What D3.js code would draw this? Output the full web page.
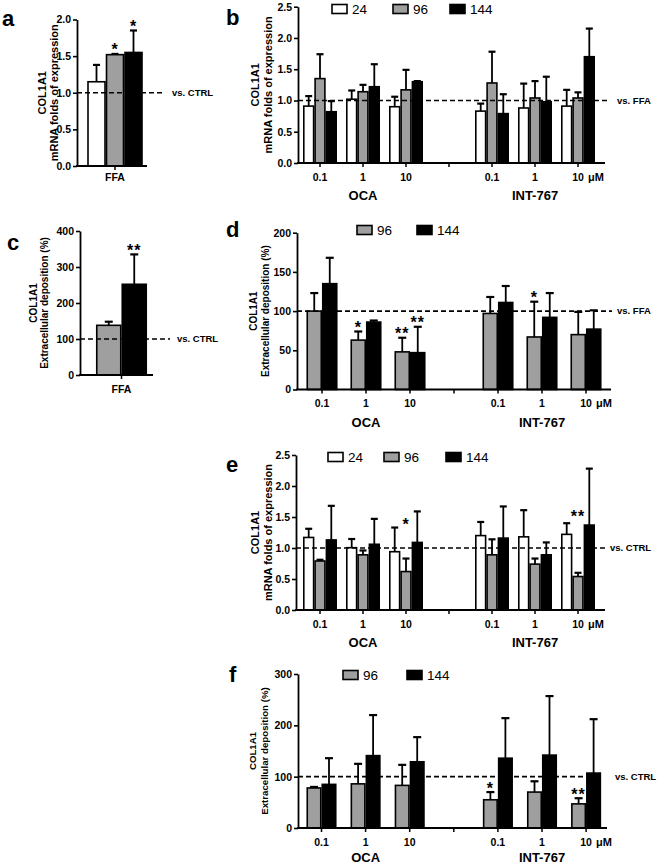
<!DOCTYPE html>
<html>
<head>
<meta charset="utf-8">
<script src="https://cdn.jsdelivr.net/npm/d3@7"></script>
<style>
  html, body { margin: 0; padding: 0; background: #fff; }
  svg { display: block; }
  text { font-family: 'Liberation Sans', Arial, sans-serif; }
</style>
</head>
<body>
<svg id="fig" width="658" height="866"></svg>
<script>
// ---------------- DATA ----------------
const concLabels = ["0.1", "1", "10", "0.1", "1", "10"];
const drugLabels = ["OCA", "INT-767"];
const seriesRNA = ["24", "96", "144"];
const seriesDep = ["96", "144"];

// panel a: COL1A1 mRNA, FFA vs CTRL
const aMean = [1.15, 1.52, 1.55];
const aErr  = [1.38, 1.53, 1.85];
const aStar = ["", "*", "*"];
const aTicks = [0, 0.5, 1.0, 1.5, 2.0];

// panel b: mRNA vs FFA
const b24     = [0.91, 1.02, 0.90, 0.83, 0.88, 0.91];
const b24Err  = [1.07, 1.16, 1.06, 0.95, 1.27, 1.17];
const b96     = [1.35, 1.14, 1.17, 1.28, 1.04, 1.04];
const b96Err  = [1.74, 1.25, 1.49, 1.78, 1.31, 1.13];
const b144    = [0.82, 1.22, 1.30, 0.79, 0.98, 1.70];
const b144Err = [0.99, 1.58, 1.31, 1.10, 1.38, 2.15];
const rnaTicks = [0, 0.5, 1.0, 1.5, 2.0, 2.5];

// panel c: extracellular deposition, FFA vs CTRL
const cMean = [138, 252];
const cErr  = [148, 335];
const cStar = ["", "**"];
const cTicks = [0, 100, 200, 300, 400];

// panel d: deposition vs FFA
const d96      = [100, 63, 48, 97, 67, 70];
const d96Err   = [123, 74, 66, 118, 112, 99];
const d96Star  = ["", "*", "**", "", "*", ""];
const d144     = [135, 86, 47, 111, 92, 77];
const d144Err  = [168, 88, 80, 132, 123, 101];
const d144Star = ["", "", "**", "", "", ""];
const dTicks = [0, 50, 100, 150, 200];

// panel e: mRNA vs CTRL
const e24     = [1.17, 1.005, 0.94, 1.20, 1.18, 1.22];
const e24Err  = [1.31, 1.145, 1.33, 1.42, 1.61, 1.40];
const e96     = [0.79, 0.89, 0.62, 0.89, 0.74, 0.54];
const e96Err  = [0.81, 0.96, 0.83, 1.14, 0.83, 0.60];
const e96Star = ["", "", "*", "", "", "**"];
const e96StarAt = [null, null, 1.31, null, null, 1.45];
const e144    = [1.13, 1.06, 1.09, 1.16, 0.89, 1.37];
const e144Err = [1.68, 1.47, 1.59, 1.67, 1.09, 2.28];

// panel f: deposition vs CTRL
const f96      = [78, 86, 83, 55, 70, 47];
const f96Err   = [80, 125, 123, 70, 91, 58];
const f96Star  = ["", "", "", "*", "", "**"];
const f144     = [85, 141, 129, 136, 142, 107];
const f144Err  = [136, 220, 177, 214, 257, 212];
const fTicks = [0, 100, 200, 300];

// ---------------- STYLE ----------------
const FILL = { "24": "#ffffff", "96": "#9f9f9f", "144": "#000000" };
const svg = d3.select("#fig");

function drawPanel(cfg) {
  const g = svg.append("g");
  const y = d3.scaleLinear().domain([0, cfg.yMax]).range([cfg.yBot, cfg.yTop]);
  const slots = cfg.slots;
  const xs = d3.scaleBand().domain(slots)
    .range([cfg.c0 - cfg.step / 2, cfg.c0 - cfg.step / 2 + slots.length * cfg.step])
    .padding(0);
  const names = cfg.series.map(s => s.name);
  const xi = d3.scaleBand().domain(names)
    .range([-names.length * cfg.barW / 2, names.length * cfg.barW / 2]).padding(0);
  const center = k => xs(k) + xs.bandwidth() / 2;

  // bars
  cfg.series.forEach(s => {
    const rows = cfg.groupKeys.map((k, i) => ({ k, i, v: s.mean[i], e: s.err[i],
      star: s.star ? s.star[i] : "", starAt: s.starAt ? s.starAt[i] : null }));
    const bw = xi.bandwidth();
    g.selectAll(null).data(rows).enter().append("line")
      .attr("x1", d => center(d.k) + xi(s.name) + bw / 2)
      .attr("x2", d => center(d.k) + xi(s.name) + bw / 2)
      .attr("y1", d => y(d.v)).attr("y2", d => y(d.e))
      .attr("stroke", "#000").attr("stroke-width", 1.8);
    g.selectAll(null).data(rows).enter().append("line")
      .attr("x1", d => center(d.k) + xi(s.name) + bw / 2 - cfg.capW / 2)
      .attr("x2", d => center(d.k) + xi(s.name) + bw / 2 + cfg.capW / 2)
      .attr("y1", d => y(d.e)).attr("y2", d => y(d.e))
      .attr("stroke", "#000").attr("stroke-width", 2.2);
    g.selectAll(null).data(rows).enter().append("rect")
      .attr("x", d => center(d.k) + xi(s.name) + 0.75)
      .attr("width", bw - 1.5)
      .attr("y", d => y(d.v))
      .attr("height", d => y(0) - y(d.v))
      .attr("fill", FILL[s.name]).attr("stroke", "#000").attr("stroke-width", 1.6);
    g.selectAll(null).data(rows.filter(d => d.star)).enter().append("text")
      .attr("x", d => center(d.k) + xi(s.name) + bw / 2)
      .attr("y", d => y(d.starAt != null ? d.starAt : d.e) + 1.5)
      .attr("text-anchor", "middle").attr("font-size", 16).attr("font-weight", "bold")
      .attr("letter-spacing", 1)
      .text(d => d.star);
  });

  // reference dashed line
  g.append("line")
    .attr("x1", cfg.x0).attr("x2", cfg.refEnd)
    .attr("y1", y(cfg.refVal)).attr("y2", y(cfg.refVal))
    .attr("stroke", "#000").attr("stroke-width", 1.6).attr("stroke-dasharray", "5,3");
  g.append("text").attr("x", cfg.refLabelX).attr("y", y(cfg.refVal)).attr("dy", "0.35em")
    .attr("font-size", 9.5).attr("font-weight", "bold").text(cfg.refLabel);

  // y axis
  const yAxis = g.append("g").attr("transform", `translate(${cfg.x0},0)`)
    .call(d3.axisLeft(y).tickValues(cfg.ticks).tickSize(4).tickSizeOuter(0)
      .tickPadding(2).tickFormat(d3.format(cfg.fmt)));
  yAxis.select(".domain").attr("stroke-width", 1.8);
  yAxis.selectAll(".tick line").attr("stroke-width", 1.6);
  yAxis.selectAll("text").attr("font-size", 10.5).attr("font-weight", "bold")
    .attr("font-family", "'Liberation Sans', Arial, sans-serif");

  // x axis
  g.append("line").attr("x1", cfg.x0 - 0.9).attr("x2", cfg.x1)
    .attr("y1", y(0)).attr("y2", y(0)).attr("stroke", "#000").attr("stroke-width", 1.8);
  g.selectAll(null).data(slots).enter().append("line")
    .attr("x1", d => center(d)).attr("x2", d => center(d))
    .attr("y1", y(0)).attr("y2", y(0) + 4)
    .attr("stroke", "#000").attr("stroke-width", 1.5);
  g.selectAll(null).data(cfg.groupKeys).enter().append("text")
    .attr("x", d => center(d)).attr("y", y(0) + cfg.labelOff)
    .attr("text-anchor", "middle").attr("font-size", cfg.labelSize).attr("font-weight", "bold")
    .text((d, i) => cfg.groupLabels[i]);
  if (cfg.unit) {
    const last = cfg.groupKeys[cfg.groupKeys.length - 1];
    g.append("text").attr("x", center(last) + 10).attr("y", y(0) + cfg.labelOff)
      .attr("font-size", 11).attr("font-weight", "bold").text(cfg.unit);
  }
  if (cfg.drugKeys) {
    g.selectAll(null).data(cfg.drugKeys).enter().append("text")
      .attr("x", d => center(d)).attr("y", y(0) + cfg.drugOff)
      .attr("text-anchor", "middle").attr("font-size", 13).attr("font-weight", "bold")
      .text((d, i) => drugLabels[i]);
  }

  // y title
  const cy = (cfg.yTop + cfg.yBot) / 2;
  cfg.title.forEach((t, i) => {
    g.append("text").attr("transform", `translate(${cfg.titleX[i]},${cy}) rotate(-90)`)
      .attr("dy", "0.35em").attr("text-anchor", "middle")
      .attr("font-size", cfg.titleSize).attr("font-weight", "bold").text(t);
  });

  // legend
  if (cfg.legend) {
    cfg.series.forEach((s, i) => {
      const lx = cfg.legend.x[i];
      g.append("rect").attr("x", lx).attr("y", cfg.legend.y - 4.5).attr("width", 15).attr("height", 9)
        .attr("fill", FILL[s.name]).attr("stroke", "#000").attr("stroke-width", 1.6);
      g.append("text").attr("x", lx + 20).attr("y", cfg.legend.y).attr("dy", "0.36em")
        .attr("font-size", 13.5).text(s.name);
    });
  }

  // panel letter
  g.append("text").attr("x", cfg.letter.x).attr("y", cfg.letter.y)
    .attr("font-size", 22).attr("font-weight", "bold").text(cfg.letter.t);
}

const slots7 = ["g0", "g1", "g2", "gap", "g3", "g4", "g5"];
const keys6 = ["g0", "g1", "g2", "g3", "g4", "g5"];
const grouped = { slots: slots7, groupKeys: keys6, groupLabels: concLabels,
  drugKeys: ["g1", "g4"], unit: "\u03bcM", labelOff: 17.5, labelSize: 10.5, capW: 7, drugOff: 37 };

// a
drawPanel({ slots: ["g0"], groupKeys: ["g0"], groupLabels: ["FFA"], labelOff: 14.5, labelSize: 10.5,
  x0: 77, x1: 147, yTop: 19.5, yBot: 166, yMax: 2, ticks: aTicks, fmt: ".1f",
  c0: 115, step: 70, barW: 18.5, capW: 7,
  series: seriesRNA.map((n, i) => ({ name: n, mean: [aMean[i]], err: [aErr[i]], star: [aStar[i]] })),
  refVal: 1, refEnd: 165, refLabelX: 172, refLabel: "vs. CTRL",
  title: ["COL1A1", "mRNA folds of expression"], titleX: [42, 54], titleSize: 11,
  letter: { t: "a", x: 2, y: 26 } });

// b
drawPanel(Object.assign({}, grouped, {
  x0: 298, x1: 605, yTop: 6.7, yBot: 163, yMax: 2.5, ticks: rnaTicks, fmt: ".1f",
  c0: 320, step: 43, barW: 11.3,
  series: [{ name: "24", mean: b24, err: b24Err }, { name: "96", mean: b96, err: b96Err },
           { name: "144", mean: b144, err: b144Err }],
  refVal: 1, refEnd: 608, refLabelX: 617, refLabel: "vs. FFA",
  title: ["COL1A1", "mRNA folds of expression"], titleX: [255, 268], titleSize: 11,
  legend: { x: [332, 393, 450], y: 9 },
  letter: { t: "b", x: 226, y: 25 } }));

// c
drawPanel({ slots: ["g0"], groupKeys: ["g0"], groupLabels: ["FFA"], labelOff: 18, labelSize: 10.5,
  x0: 80, x1: 153, yTop: 231, yBot: 375, yMax: 400, ticks: cTicks, fmt: "d",
  c0: 121.5, step: 73, barW: 25.5, capW: 8,
  series: seriesDep.map((n, i) => ({ name: n, mean: [cMean[i]], err: [cErr[i]], star: [cStar[i]] })),
  refVal: 100, refEnd: 170, refLabelX: 177, refLabel: "vs. CTRL",
  title: ["COL1A1", "Extracellular deposition (%)"], titleX: [33, 44], titleSize: 10,
  letter: { t: "c", x: 7, y: 250 } });

// d
drawPanel(Object.assign({}, grouped, {
  x0: 297, x1: 611, yTop: 232.7, yBot: 389.5, yMax: 200, ticks: dTicks, fmt: "d",
  c0: 322, step: 44, barW: 15.5, capW: 8,
  series: [{ name: "96", mean: d96, err: d96Err, star: d96Star },
           { name: "144", mean: d144, err: d144Err, star: d144Star }],
  refVal: 100, refEnd: 612, refLabelX: 617, refLabel: "vs. FFA",
  title: ["COL1A1", "Extracellular deposition (%)"], titleX: [253, 265], titleSize: 10,
  legend: { x: [357, 417], y: 230 },
  letter: { t: "d", x: 226, y: 237 } }));

// e
drawPanel(Object.assign({}, grouped, {
  x0: 296, x1: 605, yTop: 455, yBot: 610, yMax: 2.5, ticks: rnaTicks, fmt: ".1f",
  c0: 320, step: 43, barW: 11.3,
  series: [{ name: "24", mean: e24, err: e24Err },
           { name: "96", mean: e96, err: e96Err, star: e96Star, starAt: e96StarAt },
           { name: "144", mean: e144, err: e144Err }],
  refVal: 1, refEnd: 605, refLabelX: 610, refLabel: "vs. CTRL",
  title: ["COL1A1", "mRNA folds of expression"], titleX: [255, 268], titleSize: 11,
  legend: { x: [328, 384, 446], y: 457 },
  letter: { t: "e", x: 226, y: 472 } }));

// f
drawPanel(Object.assign({}, grouped, {
  x0: 298, x1: 607, yTop: 674, yBot: 828, yMax: 300, ticks: fTicks, fmt: "d",
  c0: 321.5, step: 44.1, barW: 15, capW: 8, drugOff: 33.5,
  series: [{ name: "96", mean: f96, err: f96Err, star: f96Star },
           { name: "144", mean: f144, err: f144Err }],
  refVal: 100, refEnd: 600, refLabelX: 615, refLabel: "vs. CTRL",
  title: ["COL1A1", "Extracellular deposition (%)"], titleX: [253, 265], titleSize: 9.7,
  legend: { x: [343, 407], y: 675 },
  letter: { t: "f", x: 229, y: 682 } }));
</script>
</body>
</html>
